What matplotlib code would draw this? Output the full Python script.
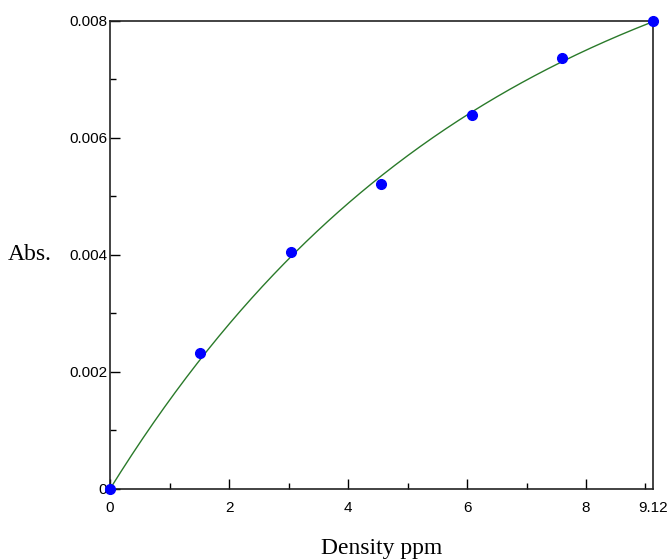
import numpy as np
import matplotlib.pyplot as plt
from matplotlib.ticker import MultipleLocator

# 浓度 (ppm) 与吸光度
density = [0, 1.52, 3.04, 4.56, 6.08, 7.60, 9.12]
absorb = [0, 0.00232, 0.00405, 0.00521, 0.00639, 0.00737, 0.0080]

xticks = [0, 2, 4, 6, 8, 9.12]
xtick_labels = ['0', '2', '4', '6', '8', '9.12']
yticks = [0, 0.002, 0.004, 0.006, 0.008]
ytick_labels = ['0', '0.002', '0.004', '0.006', '0.008']

# 指数饱和拟合 y = a*(1-exp(-b*x))，b 网格搜索，a 最小二乘
x = np.array(density)
y = np.array(absorb)
best = None
for b in np.linspace(0.01, 1.0, 2000):
    g = 1 - np.exp(-b * x)
    a = np.dot(g, y) / np.dot(g, g)
    err = np.sum((a * g - y) ** 2)
    if best is None or err < best[0]:
        best = (err, a, b)
_, a, b = best
xs = np.linspace(0, 9.12, 300)
ys = a * (1 - np.exp(-b * xs))

fig = plt.figure(figsize=(6.68, 5.6), dpi=100)
ax = fig.add_axes([0.1647, 0.1268, 0.8123, 0.8357])

ax.plot(xs, ys, color='#2a7a2a', lw=1.0, clip_on=False)
ax.plot(density, absorb, 'o', color='#0000ff', ms=7, clip_on=False, zorder=5)

ax.set_xlim(0, 9.12)
ax.set_ylim(0, 0.008)
ax.set_xticks(xticks)
ax.set_xticklabels(xtick_labels)
ax.set_yticks(yticks)
ax.set_yticklabels(ytick_labels)
ax.xaxis.set_minor_locator(MultipleLocator(1))
ax.yaxis.set_minor_locator(MultipleLocator(0.001))
ax.tick_params(which='major', direction='in', length=7, width=1, labelsize=11)
ax.tick_params(which='minor', direction='in', length=4, width=1)
ax.tick_params(axis='x', pad=9)
ax.tick_params(axis='y', pad=2)
for t in ax.get_xticklabels() + ax.get_yticklabels():
    t.set_family(['Liberation Sans Narrow', 'Liberation Sans'])
# 9.12 处没有主刻度线
ax.xaxis.get_major_ticks()[-1].tick1line.set_visible(False)

for s in ax.spines.values():
    s.set_linewidth(1.2)
    s.set_color('#222222')

ax.set_xlabel('Density ppm', family='Liberation Serif', fontsize=17, labelpad=16)
fig.text(0.012, 0.545, 'Abs.', family='Liberation Serif', fontsize=17,
         ha='left', va='center')

fig.savefig('out.png', dpi=100)
